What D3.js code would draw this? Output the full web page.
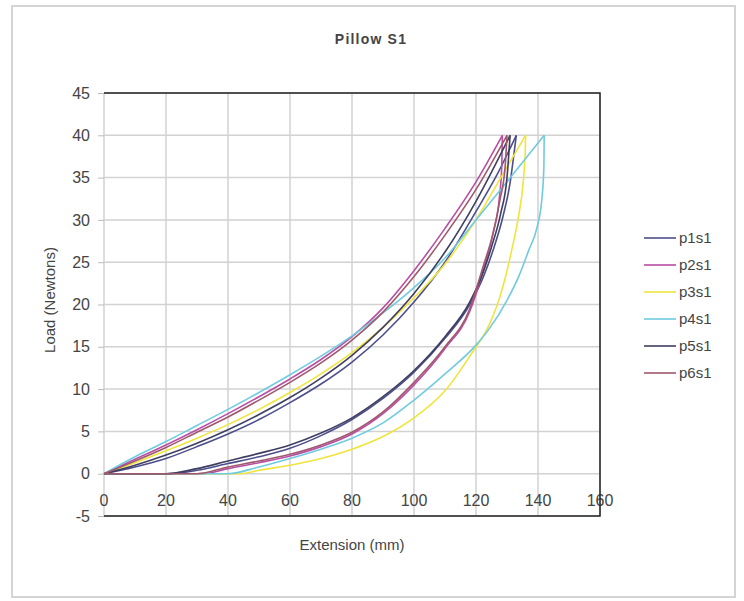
<!DOCTYPE html>
<html>
<head>
<meta charset="utf-8">
<script src="https://cdn.jsdelivr.net/npm/d3@7"></script>
<style>
  body { margin: 0; background: #fff; }
  text { font-family: "Liberation Sans", Arial, sans-serif; fill: #444; }
</style>
</head>
<body>
<script>
// series names and colours
const seriesNames = ["p1s1", "p2s1", "p3s1", "p4s1", "p5s1", "p6s1"];
const seriesColors = ["#4d4f8c", "#b84ea6", "#f0e43c", "#70cbe0", "#3e3e60", "#a0586c"];

// loading branch (upper curve), [extension mm, load N]
const p1Load = [[0,0],[10,0.8],[20,1.8],[30,3.2],[40,4.7],[50,6.4],[60,8.4],[70,10.6],[80,13.2],[90,16.4],[100,20.3],[110,25],[120,31],[127,35.5],[133,40]];
const p2Load = [[0,0],[10,1.7],[20,3.4],[30,5.2],[40,7.1],[50,9.1],[60,11.2],[70,13.5],[80,16.2],[90,19.6],[100,24],[110,29],[120,34.5],[128.5,40]];
const p3Load = [[0,0],[10,1.3],[20,2.7],[30,4.2],[40,5.8],[50,7.6],[60,9.6],[70,11.8],[80,14.3],[90,17.3],[100,20.8],[110,24.8],[120,30],[128,35],[136,40]];
const p4Load = [[0,0],[10,2],[20,3.8],[30,5.7],[40,7.6],[50,9.6],[60,11.7],[70,13.9],[80,16.3],[90,19],[100,22],[110,25.5],[120,30],[130,34.5],[142,40]];
const p5Load = [[0,0],[10,1],[20,2.2],[30,3.6],[40,5.2],[50,7],[60,9],[70,11.3],[80,14],[90,17.3],[100,21.3],[110,26.2],[120,32.2],[131,40]];
const p6Load = [[0,0],[10,1.5],[20,3.1],[30,4.9],[40,6.7],[50,8.7],[60,10.8],[70,13.1],[80,15.8],[90,19.1],[100,23.3],[110,28.2],[120,33.6],[130,40]];

// unloading branch (lower curve), listed from origin up to the peak
const p1Unload = [[0,0],[22,0],[30,0.4],[40,1.2],[50,2.0],[60,3.0],[70,4.5],[80,6.4],[90,8.9],[100,12],[110,16],[118,20],[122.4,23.3],[125.5,26.4],[128.7,30.4],[131,34.4],[132,37.1],[133,40]];
const p2Unload = [[0,0],[32,0],[40,0.6],[50,1.3],[60,2.1],[70,3.2],[80,4.7],[90,7.1],[100,10.5],[110,14.8],[118,19.2],[122.3,24],[125.5,28.4],[127.5,32.5],[128.3,36.3],[128.5,40]];
const p3Unload = [[0,0],[44,0],[50,0.4],[60,1.0],[70,1.8],[80,2.9],[90,4.4],[100,6.6],[110,9.8],[118,13.9],[124.5,17.8],[127.7,20.9],[131.5,26.4],[133.7,30.4],[135.2,34.4],[135.9,38.3],[136,40]];
const p4Unload = [[0,0],[40,0],[50,0.8],[60,1.8],[70,2.9],[80,4.2],[90,6.0],[100,8.7],[110,11.8],[120,15.2],[124,17],[130,20.5],[134,23.5],[137,26.4],[139.6,29],[141.2,32.3],[141.9,36.3],[142,40]];
const p5Unload = [[0,0],[20,0],[30,0.6],[40,1.5],[50,2.4],[60,3.4],[70,4.8],[80,6.6],[90,9.1],[100,12.2],[110,16.2],[118,20.3],[122,23.5],[125,26.8],[128,30.8],[130,35],[131,40]];
const p6Unload = [[0,0],[30,0],[40,0.8],[50,1.5],[60,2.3],[70,3.4],[80,4.9],[90,7.3],[100,10.8],[110,15],[118,19.5],[122.3,24.5],[125.5,28.4],[127.7,32.3],[129.4,36.3],[130,40]];

const loadData = [p1Load, p2Load, p3Load, p4Load, p5Load, p6Load];
const unloadData = [p1Unload, p2Unload, p3Unload, p4Unload, p5Unload, p6Unload];

const xTicks = [0, 20, 40, 60, 80, 100, 120, 140, 160];
const yTicks = [-5, 0, 5, 10, 15, 20, 25, 30, 35, 40, 45];

const width = 744, height = 601;
const svg = d3.select("body").append("svg")
    .attr("width", width)
    .attr("height", height);

// outer frame
svg.append("rect")
    .attr("x", 12).attr("y", 6)
    .attr("width", 723).attr("height", 591)
    .attr("fill", "#fff")
    .attr("stroke", "#d4d4d4")
    .attr("stroke-width", 2);

const plot = { left: 104, right: 600, top: 93, bottom: 516 };

const x = d3.scaleLinear().domain([0, 160]).range([plot.left, plot.right]);
const y = d3.scaleLinear().domain([-5, 45]).range([plot.bottom, plot.top]);

// grid
svg.append("g")
    .selectAll("line")
    .data(xTicks)
    .enter().append("line")
    .attr("x1", d => x(d)).attr("x2", d => x(d))
    .attr("y1", plot.top).attr("y2", plot.bottom)
    .attr("stroke", "#d2d2d2")
    .attr("stroke-width", 1.5);

svg.append("g")
    .selectAll("line")
    .data(yTicks)
    .enter().append("line")
    .attr("x1", plot.left).attr("x2", plot.right)
    .attr("y1", d => y(d)).attr("y2", d => y(d))
    .attr("stroke", "#d2d2d2")
    .attr("stroke-width", 1.5);

// y axis with small ticks on the left (plain hyphen for -5)
const yAxis = svg.append("g")
    .attr("transform", `translate(${plot.left},0)`)
    .call(d3.axisLeft(y).tickValues(yTicks).tickFormat(d => String(d)).tickSize(6).tickPadding(8));
yAxis.select(".domain").remove();
yAxis.selectAll("line").attr("stroke", "#bbb");
yAxis.selectAll("text")
    .style("font-size", "16px")
    .style("font-family", "Liberation Sans, Arial, sans-serif")
    .attr("fill", "#444");

// x tick labels sit just above the bottom border
svg.append("g")
    .selectAll("text")
    .data(xTicks)
    .enter().append("text")
    .attr("x", d => x(d))
    .attr("y", plot.bottom - 10)
    .attr("text-anchor", "middle")
    .style("font-size", "16px")
    .text(d => d);

// plot border: top, right, bottom dark
svg.append("path")
    .attr("d", `M${plot.left},${plot.top}H${plot.right}V${plot.bottom}H${plot.left}`)
    .attr("fill", "none")
    .attr("stroke", "#222")
    .attr("stroke-width", 1.5);

// curves
const line = d3.line()
    .x(d => x(d[0]))
    .y(d => y(d[1]))
    .curve(d3.curveMonotoneX);

seriesNames.forEach((name, i) => {
    const g = svg.append("g").attr("class", "series-" + name);
    g.append("path")
        .datum(loadData[i])
        .attr("d", line)
        .attr("fill", "none")
        .attr("stroke", seriesColors[i])
        .attr("stroke-width", 1.6);
    g.append("path")
        .datum(unloadData[i])
        .attr("d", line)
        .attr("fill", "none")
        .attr("stroke", seriesColors[i])
        .attr("stroke-width", 1.6);
});

// title
svg.append("text")
    .attr("x", 371).attr("y", 44)
    .attr("text-anchor", "middle")
    .style("font-size", "14px")
    .style("font-weight", "bold")
    .style("letter-spacing", "1.2px")
    .attr("fill", "#222")
    .text("Pillow S1");

// axis titles
svg.append("text")
    .attr("x", 352).attr("y", 550)
    .attr("text-anchor", "middle")
    .style("font-size", "15px")
    .text("Extension (mm)");

svg.append("text")
    .attr("transform", "translate(55,300) rotate(-90)")
    .attr("text-anchor", "middle")
    .style("font-size", "15px")
    .text("Load (Newtons)");

// legend
const legend = svg.append("g")
    .selectAll("g")
    .data(seriesNames)
    .enter().append("g")
    .attr("transform", (d, i) => `translate(644,${238 + i * 27})`);

legend.append("line")
    .attr("x1", 0).attr("x2", 32)
    .attr("y1", 0).attr("y2", 0)
    .attr("stroke", (d, i) => seriesColors[i])
    .attr("stroke-width", 1.6);

legend.append("text")
    .attr("x", 35).attr("y", 5)
    .style("font-size", "15px")
    .text(d => d);
</script>
</body>
</html>
